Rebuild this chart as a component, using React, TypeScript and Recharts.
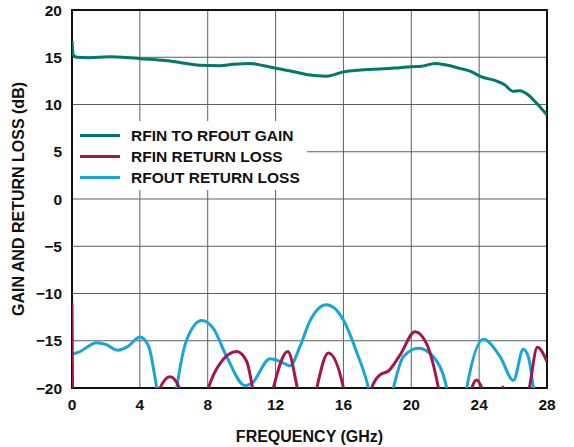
import { LineChart, Line, XAxis, YAxis, CartesianGrid, ReferenceArea } from 'recharts'

const xTicks = [0, 4, 8, 12, 16, 20, 24, 28]
const yTicks = [-20, -15, -10, -5, 0, 5, 10, 15, 20]

const gainFreq = [0, 0.08, 0.3, 1, 2.2, 3, 4, 5.5, 6.5, 7.5, 8.7, 9.5, 10.5, 11.3, 12.1, 13, 13.9, 15, 16, 17, 19, 20, 20.6, 21.4, 22, 22.9, 23.5, 24.1, 25, 25.5, 26, 26.4, 26.9, 27.4, 28]
const gainDb = [16.7, 15.2, 15.0, 14.95, 15.05, 15.0, 14.85, 14.65, 14.4, 14.15, 14.1, 14.25, 14.35, 14.1, 13.8, 13.5, 13.15, 13.0, 13.45, 13.65, 13.85, 14.0, 14.05, 14.35, 14.2, 13.8, 13.5, 12.95, 12.5, 12.1, 11.4, 11.45, 11.0, 10.1, 8.9]

const rfinFreq = [0, 0.03, 0.1, 2.5, 5.0, 5.19, 5.78, 6.33, 6.6, 7.6, 8.04, 8.73, 9.71, 10.3, 10.65, 11.0, 11.5, 11.87, 12.72, 13.28, 13.6, 14.1, 14.43, 15.11, 16.0, 16.3, 17.3, 17.67, 18.16, 18.65, 19.34, 20.22, 20.9, 21.6, 21.9, 23.3, 23.57, 23.86, 24.16, 24.5, 25.2, 25.4, 25.6, 26.6, 26.96, 27.43, 28]
const rfinDb = [-11, -20, -26, -30, -22, -20, -18.8, -20, -23, -23, -20, -17.4, -16.15, -17.2, -20, -23, -23, -20, -16.15, -20, -23, -23, -20, -16.3, -20, -23, -23, -20, -18.6, -18.2, -16.5, -14.05, -15.3, -20, -23, -23, -20, -19.15, -20, -22, -21, -19.9, -21, -23, -20, -15.7, -17.2]

const rfoutFreq = [0, 0.4, 1.45, 2.0, 2.7, 3.3, 4.0, 4.5, 5.0, 5.3, 5.8, 6.17, 6.76, 7.65, 8.33, 9.12, 10.2, 10.6, 11.67, 12.3, 12.85, 13.44, 14.0, 15.0, 16.0, 16.8, 17.47, 17.8, 18.6, 18.95, 19.53, 20.42, 21.3, 22.09, 22.4, 23.0, 23.27, 24.25, 25.24, 26.02, 26.6, 26.9, 27.2, 27.5, 28]
const rfoutDb = [-16.4, -16.2, -15.2, -15.4, -16.0, -15.6, -14.6, -15.5, -20, -23, -25, -20, -14.9, -12.85, -13.7, -16.7, -19.75, -19.5, -16.9, -17.2, -17.65, -15.6, -13.0, -11.2, -12.8, -16.3, -20, -23, -23, -20, -16.7, -15.8, -16.7, -20, -23, -23, -20, -14.85, -16.7, -19.2, -15.9, -16.7, -20, -24, -26]

const pairs = (f: number[], v: number[]) => f.map((x, i) => ({ f: x, v: v[i] }))
const gainData = pairs(gainFreq, gainDb)
const rfinData = pairs(rfinFreq, rfinDb)
const rfoutData = pairs(rfoutFreq, rfoutDb)

const TEAL = '#00786c'
const RED = '#a3174b'
const BLUE = '#19a5d8'
const FONT = '"Liberation Sans", Arial, sans-serif'

const legendItems = [
  { name: 'RFIN TO RFOUT GAIN', color: TEAL },
  { name: 'RFIN RETURN LOSS', color: RED },
  { name: 'RFOUT RETURN LOSS', color: BLUE },
]

const fmt = (v: number) => (v < 0 ? '\u2212' + Math.abs(v) : String(v))
const tickStyle = { fontSize: 15.5, fontWeight: 700, fill: '#111', fontFamily: FONT }
const titleStyle = { fontSize: 16, fontWeight: 700, fill: '#111', fontFamily: FONT }

export default function App() {
  return (
    <div style={{ position: 'absolute', left: 0, top: 0, width: 574, height: 447, background: '#fff', fontFamily: FONT }}>
      <LineChart width={574} height={447} margin={{ top: 10, right: 27, bottom: 0, left: 0 }}>
        <CartesianGrid stroke="#5e5e5e" strokeWidth={1} />
        <XAxis
          type="number"
          dataKey="f"
          domain={[0, 28]}
          ticks={xTicks}
          allowDataOverflow
          height={59}
          axisLine={false}
          tickLine={false}
          tickMargin={5}
          tick={tickStyle}
          label={{ value: 'FREQUENCY (GHz)', position: 'insideBottom', offset: 5, style: titleStyle }}
        />
        <YAxis
          type="number"
          domain={[-20, 20]}
          ticks={yTicks}
          allowDataOverflow
          width={72}
          axisLine={false}
          tickLine={false}
          tickMargin={4}
          tickFormatter={fmt}
          tick={tickStyle}
          label={{ value: 'GAIN AND RETURN LOSS (dB)', angle: -90, position: 'insideLeft', offset: 18, style: { ...titleStyle, textAnchor: 'middle' } }}
        />
        <Line data={rfoutData} dataKey="v" type="monotone" stroke={BLUE} strokeWidth={3} dot={false} isAnimationActive={false} />
        <Line data={rfinData} dataKey="v" type="monotone" stroke={RED} strokeWidth={3} dot={false} isAnimationActive={false} />
        <Line data={gainData} dataKey="v" type="monotone" stroke={TEAL} strokeWidth={3} dot={false} isAnimationActive={false} />
        <ReferenceArea x1={0} x2={28} y1={-20} y2={20} fill="none" stroke="#111" strokeWidth={2} ifOverflow="visible" />
      </LineChart>
      <div style={{ position: 'absolute', left: 73, top: 121, width: 234, height: 69, background: '#fff' }}>
        {legendItems.map((it, i) => (
          <div key={it.name} style={{ position: 'absolute', left: 0, top: 4 + i * 21, height: 21, display: 'flex', alignItems: 'center' }}>
            <span style={{ display: 'inline-block', marginLeft: 7, width: 40, height: 3, background: it.color }} />
            <span style={{ marginLeft: 11, fontSize: 15.5, fontWeight: 700, color: '#111', whiteSpace: 'nowrap' }}>{it.name}</span>
          </div>
        ))}
      </div>
    </div>
  )
}
